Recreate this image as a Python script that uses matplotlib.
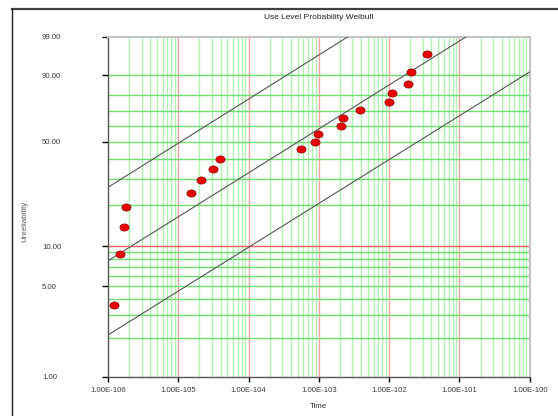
import numpy as np
import matplotlib
matplotlib.use("Agg")
import matplotlib.pyplot as plt
from matplotlib.path import Path
from matplotlib.lines import Line2D

# ---------------- data ----------------
times = [1.23e-6, 1.50e-6, 1.67e-6, 1.80e-6, 1.52e-5, 2.08e-5, 3.15e-5, 3.96e-5,
         5.62e-4, 8.73e-4, 9.64e-4, 2.07e-3, 2.19e-3, 3.85e-3, 9.87e-3, 1.11e-2,
         1.87e-2, 2.07e-2, 3.49e-2]
unrel = [3.60, 8.73, 13.9, 19.2, 24.2, 29.4, 34.6, 39.8, 45.4, 50.05, 55.1,
         60.4, 65.7, 70.7, 76.0, 81.0, 86.1, 91.4, 96.5]

# fitted line and bounds: (time, unreliability %) endpoints
upper_t = [1e-6, 2.6e-3]
upper_f = [26.3, 99.0]
mid_t = [1e-6, 0.1253]
mid_f = [7.8, 99.0]
lower_t = [1e-6, 1.0]
lower_f = [2.11, 91.3]

ytick_vals = [1, 5, 10, 50, 90, 99]
ytick_labels = ["1.00", "5.00", "10.00", "50.00", "90.00", "99.00"]
ygrid_vals = [2, 3, 4, 5, 6, 7, 8, 9, 10, 20, 30, 40, 50, 60, 70, 80, 90]
xtick_vals = [1e-6, 1e-5, 1e-4, 1e-3, 1e-2, 1e-1, 1e0]
xtick_labels = ["1.00E-106", "1.00E-105", "1.00E-104", "1.00E-103",
                "1.00E-102", "1.00E-101", "1.00E-100"]
decades = [-6, -5, -4, -3, -2, -1]
mults = [1, 2, 3, 4, 5, 6, 7, 8, 9]

plt.rcParams['font.family'] = ['Liberation Sans', 'DejaVu Sans']

W, H = 558, 416
fig = plt.figure(figsize=(W / 100, H / 100), dpi=100)
L, R, T, B = 108, 529.7, 36.7, 376.7
ax = fig.add_axes([L / W, 1 - B / H, (R - L) / W, (B - T) / H])


def fwd(f):
    f = np.clip(np.asarray(f, dtype=float), 1e-9, 100 - 1e-9)
    return np.log(-np.log(1 - f / 100.0))


def inv(w):
    w = np.asarray(w, dtype=float)
    return 100.0 * (1 - np.exp(-np.exp(w)))


ax.set_xscale('log')
ax.set_yscale('function', functions=(fwd, inv))
ax.set_xlim(1e-6, 1e0)
ax.set_ylim(1, 99)

green_v = '#aef3ae'
green_h = '#6fe06f'
red_v = '#ffa0a0'
red_h = '#ff6060'

# vertical grid
for d in decades:
    for m in mults:
        v = m * 10.0 ** d
        if v <= 1e-6 * 1.0001:
            continue
        col = red_v if m == 1 else green_v
        ax.axvline(v, color=col, lw=1.0, zorder=1)
# horizontal grid
for g in ygrid_vals:
    col = red_h if g == 10 else green_h
    ax.axhline(g, color=col, lw=1.0, zorder=1.5)

# lines
for tt, ff in [(upper_t, upper_f), (mid_t, mid_f), (lower_t, lower_f)]:
    ax.plot(tt, ff, color='#555555', lw=0.8, zorder=3)

# points (slightly elliptical marker)
circ = Path.unit_circle()
ell = Path(circ.vertices * np.array([1.0, 0.78]), circ.codes)
ax.plot(times, unrel, linestyle='none', marker=ell, markersize=6.6,
        markerfacecolor='#e80000', markeredgecolor='#900000',
        markeredgewidth=0.5, zorder=4)

# spines
for s in ['left', 'bottom']:
    ax.spines[s].set_color('#555555')
    ax.spines[s].set_linewidth(1.0)
for s in ['right', 'top']:
    ax.spines[s].set_color('#c4c4c4')
    ax.spines[s].set_linewidth(1.5)

# ticks
ax.set_xticks(xtick_vals)
ax.set_xticklabels(xtick_labels)
ax.xaxis.set_minor_locator(matplotlib.ticker.NullLocator())
ax.set_yticks(ytick_vals)
ax.set_yticklabels(ytick_labels)
ax.yaxis.set_minor_locator(matplotlib.ticker.NullLocator())
ax.tick_params(axis='x', direction='out', length=3.5, width=1.0,
               labelsize=5.6, pad=4, labelcolor='#3a3a3a')
ax.tick_params(axis='y', direction='out', length=4.5, width=1.0,
               labelsize=5.6, pad=43, labelcolor='#3a3a3a')
for lab in ax.get_yticklabels():
    lab.set_horizontalalignment('left')

xt = ax.xaxis.get_major_ticks()
for i, tk in enumerate(xt):
    if i == 0:
        tk.tick1line.set_color('#555555')
    elif i == len(xt) - 1:
        tk.tick1line.set_color('#c4c4c4')
    else:
        tk.tick1line.set_color(red_v)
yt = ax.yaxis.get_major_ticks()
for v, tk in zip(ytick_vals, yt):
    if v == 10:
        tk.tick1line.set_color(red_h)
    elif v == 1:
        tk.tick1line.set_color('#555555')
    elif v == 99:
        tk.tick1line.set_color('#c4c4c4')
    else:
        tk.tick1line.set_color(green_h)

# texts
fig.text(318.8 / W, 1 - 17.3 / H, "Use Level Probability Weibull",
         ha='center', va='center', fontsize=6.0, color='#222222')
fig.text(318.8 / W, 1 - 407 / H, "Time", ha='center', va='center',
         fontsize=5.7, color='#333333')
fig.text(24.5 / W, 1 - 221 / H, "Unreliability", ha='center', va='center',
         rotation=90, fontsize=5.8, color='#555555')

# outer frame lines
fig.add_artist(Line2D([12 / W, 1.0], [1 - 9 / H, 1 - 9 / H],
                      transform=fig.transFigure, color='#404040', lw=1.6))
fig.add_artist(Line2D([12 / W, 12 / W], [1 - 9 / H, 0.0],
                      transform=fig.transFigure, color='#202020', lw=1.0))

fig.savefig('out.png', dpi=100)
